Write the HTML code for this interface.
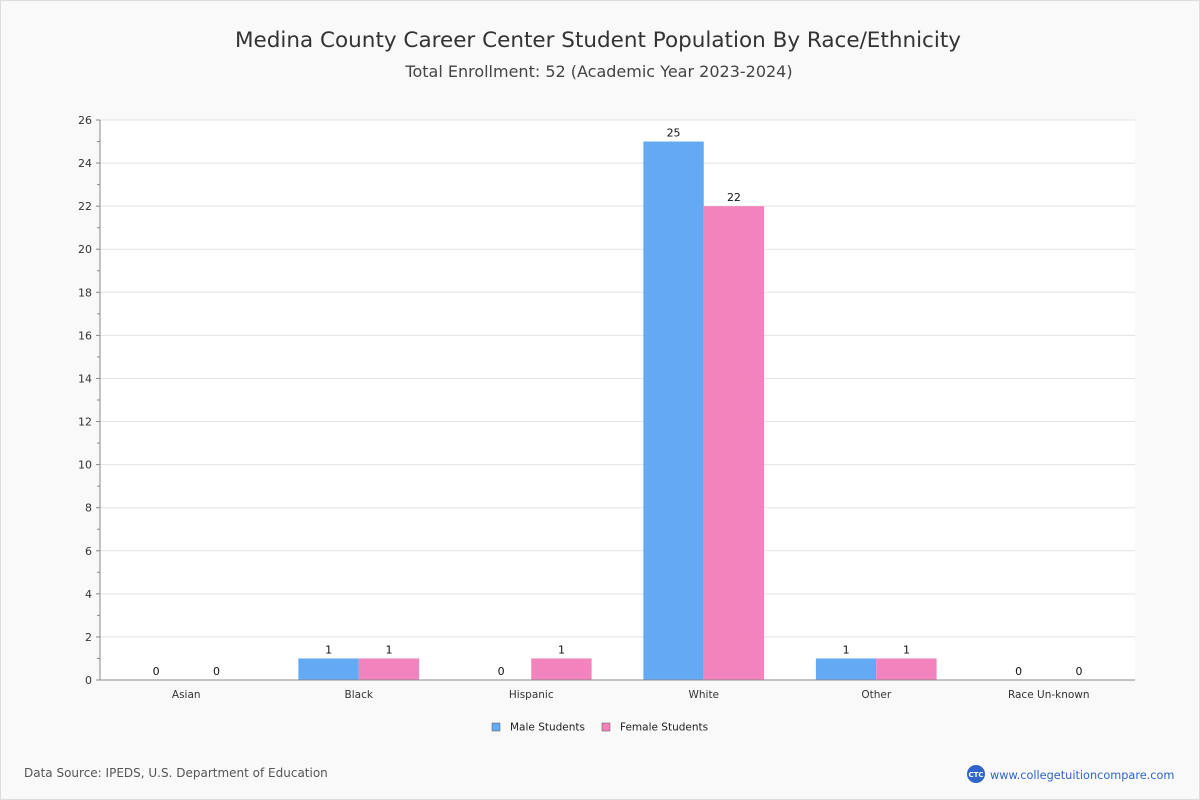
<!DOCTYPE html>
<html><head><meta charset="utf-8"><style>
html,body{margin:0;padding:0;background:#fff}
#wrap{width:1198px;height:798px;border:1px solid #ddd;background:#f9f9f9;position:relative;font-family:"DejaVu Sans","Liberation Sans",sans-serif}
svg{position:absolute;left:0;top:0}
</style></head><body>
<div id="wrap">
<svg id="chart" width="1198" height="798">
<text x="597" y="46" text-anchor="middle" font-size="21.5" fill="#333">Medina County Career Center Student Population By Race/Ethnicity</text>
<text x="598" y="76" text-anchor="middle" font-size="16" fill="#444">Total Enrollment: 52 (Academic Year 2023-2024)</text>
<rect x="99" y="119" width="1035" height="560" fill="#fff"/>
<g id="grid"></g><g id="bars"></g><g id="axes"></g>
<g>
<rect x="491" y="722" width="8" height="8" fill="#63a9f4" stroke="#555" stroke-width="0.5"/>
<text x="509" y="729.5" font-size="10.5" fill="#222">Male Students</text>
<rect x="601" y="722" width="8" height="8" fill="#f383bc" stroke="#555" stroke-width="0.5"/>
<text x="619" y="729.5" font-size="10.5" fill="#222">Female Students</text>
</g>
<text x="23" y="776" font-size="12" fill="#555">Data Source: IPEDS, U.S. Department of Education</text>
<circle cx="975" cy="773" r="9" fill="#2f64c9"/>
<text x="975" y="776" text-anchor="middle" font-size="7" fill="#fff" font-weight="bold">CTC</text>
<text x="989" y="778" font-size="11.3" fill="#2f64c9">www.collegetuitioncompare.com</text>
</svg>
</div>
<script>
const categories=["Asian","Black","Hispanic","White","Other","Race Un-known"];
const maleValues=[0,1,0,25,1,0];
const femaleValues=[0,1,1,22,1,0];
const yTicks=[0,2,4,6,8,10,12,14,16,18,20,22,24,26];
const NS="http://www.w3.org/2000/svg";
const X0=99,X1=1134,Y0=679,Y1=119,YMAX=26;
const band=(X1-X0)/categories.length;
const y=v=>Y0-(v/YMAX)*(Y0-Y1);
const bx=i=>X0+band*i;
function mk(tag,attrs,parent){const e=document.createElementNS(NS,tag);for(const k in attrs)e.setAttribute(k,attrs[k]);document.getElementById(parent).appendChild(e);return e;}
yTicks.forEach(t=>{
 const g=mk("line",{x1:X0,x2:X1,y1:y(t),y2:y(t),stroke:"#e3e3e3","stroke-width":1},"grid");
 
 
 const tk=mk("line",{x1:X0-4,x2:X0,y1:y(t),y2:y(t),stroke:"#888"},"axes");
 
 
 const lb=mk("text",{x:X0-8,y:y(t)+4,"text-anchor":"end","font-size":11,fill:"#333"},"axes");
 lb.textContent=t;
 
 
 if(t<YMAX){const m=mk("line",{x1:X0-3,x2:X0,y1:y(t+1),y2:y(t+1),stroke:"#888"},"axes");
 
 }
});
const bw=band*0.35;
categories.forEach((c,i)=>{
 const cx=bx(i)+band/2;
 [[maleValues[i],"#63a9f4",cx-bw,"bar-male"],[femaleValues[i],"#f383bc",cx,"bar-female"]].forEach(([v,col,x,n])=>{
  const r=mk("rect",{x:x,y:y(v),width:bw,height:Y0-y(v),fill:col},"bars");
  
  
  const t=mk("text",{x:x+bw/2,y:y(v)-5,"text-anchor":"middle","font-size":11,fill:"#111"},"bars");
  t.textContent=v;
  
  
 });
 const l=mk("text",{x:cx,y:Y0+18,"text-anchor":"middle","font-size":10.5,fill:"#333"},"axes");
 l.textContent=c;
 
 
});
const ax=mk("line",{x1:X0,x2:X0,y1:Y1,y2:Y0,stroke:"#888"},"axes");


const xa=mk("line",{x1:X0,x2:X1,y1:Y0,y2:Y0,stroke:"#888"},"axes");


</script>
</body></html>
